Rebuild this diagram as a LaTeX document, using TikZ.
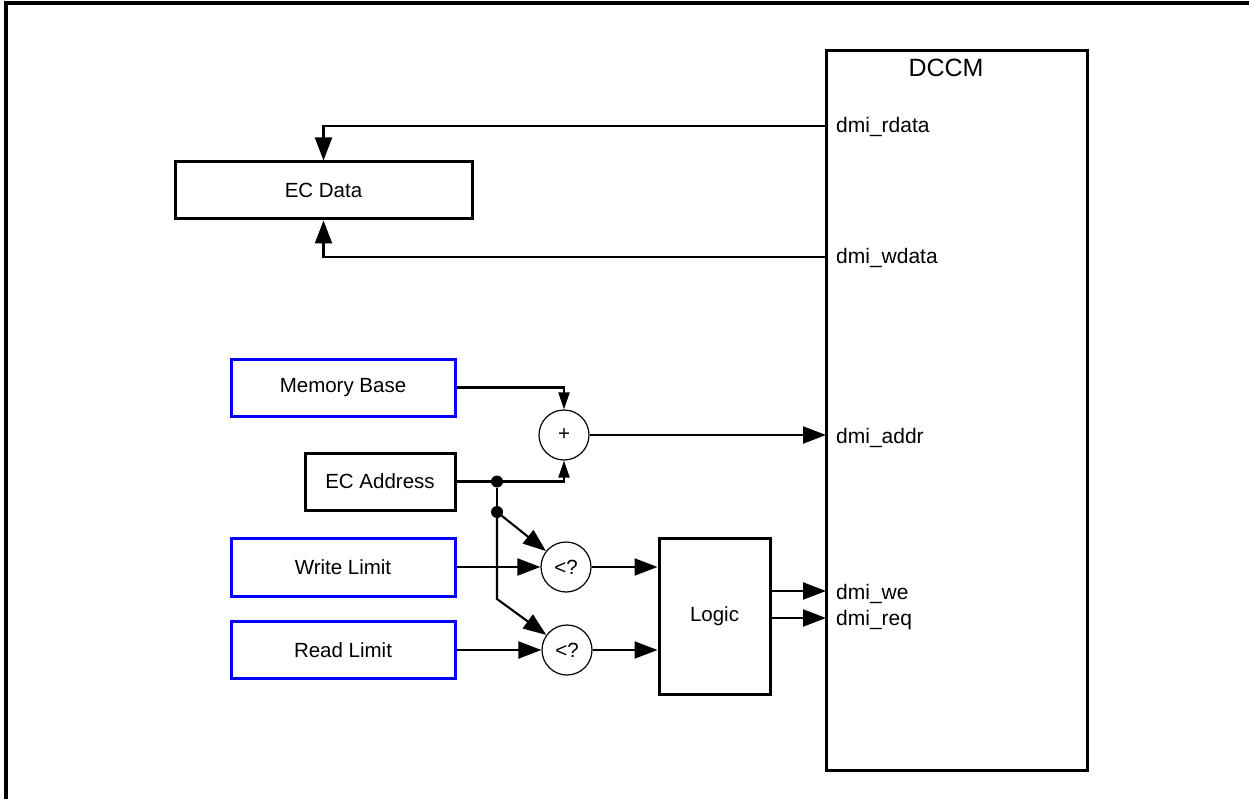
\documentclass[tikz,border=0pt]{standalone}
\usepackage{fontspec}
\setmainfont{Liberation Sans}
\usetikzlibrary{arrows.meta}
\tikzset{
  box/.style={draw, line width=3pt, inner sep=0pt, font=\fontsize{20.5}{24}\selectfont},
  bluebox/.style={box, draw=blue},
  cmpnode/.style={draw, circle, line width=1.2pt, minimum size=50pt, inner sep=0pt, font=\fontsize{20.5}{24}\selectfont},
  conn/.style={line width=2.1pt},
  bigtip/.style={-{Triangle[length=23pt,width=17pt]}},
  smalltip/.style={-{Triangle[length=17pt,width=11pt]}},
  jdot/.style={circle, fill=black, minimum size=12pt, inner sep=0pt},
  port/.style={anchor=west, inner sep=0pt, text height=14pt, text depth=0pt, font=\fontsize{21}{24}\selectfont},
}
\begin{document}
\begin{tikzpicture}[x=1pt,y=-1pt]
\useasboundingbox (0,0) rectangle (1249,799);
% outer frame
\draw[line width=4pt] (6,805) -- (6,3) -- (1255,3);

% DCCM
\node[box, minimum width=261pt, minimum height=719pt] (dccm) at (956.5,410.5) {};
\node[inner sep=0pt, font=\fontsize{25}{29}\selectfont] (dccmlabel) at (946,68) {DCCM};
\coordinate (rdata) at (826,126);
\coordinate (wdata) at (826,257);
\coordinate (addr) at (826,435);
\coordinate (we) at (826,591);
\coordinate (req) at (826,618);
\node[port] (lrdata) at (836,126) {dmi\_rdata};
\node[port] (lwdata) at (836,257) {dmi\_wdata};
\node[port] (laddr) at (836,436) {dmi\_addr};
\node[port] (lwe) at (836,592) {dmi\_we};
\node[port] (lreq) at (836,618) {dmi\_req};

% left blocks
\node[box, minimum width=297pt, minimum height=57pt] (ecdata) at (323.5,190.5) {EC Data};
\node[bluebox, minimum width=224pt, minimum height=57pt] (membase) at (343,387.5) {Memory Base};
\node[box, minimum width=150pt, minimum height=57pt] (ecaddr) at (380,481.5) {EC Address};
\node[bluebox, minimum width=224pt, minimum height=58pt] (wlimit) at (343,567) {Write Limit};
\node[bluebox, minimum width=224pt, minimum height=57pt] (rlimit) at (343,650) {Read Limit};

% operators
\node[cmpnode] (plus) at (564,435) {+};
\node[cmpnode] (cmp1) at (566,567) {<?};
\node[cmpnode] (cmp2) at (567,650) {<?};

% logic
\node[box, minimum width=111pt, minimum height=156pt] (logic) at (714.5,616) {Logic};

% junctions
\node[jdot] (j1) at (497,481.5) {};
\node[jdot] (j2) at (497,512) {};
\coordinate (bend) at (497,599);

% connectors
\draw[conn, bigtip] (rdata) -| (ecdata.north);
\draw[conn, bigtip] (wdata) -| (ecdata.south);
\draw[conn, smalltip] (membase.east) -| (plus.north);
\draw[conn, smalltip] (ecaddr.east) -| (plus.south);
\draw[conn, bigtip] (plus.east) -- (addr);
\draw[conn] (j1) -- (j2);
\draw[conn, bigtip] (j2) -- (cmp1);
\draw[conn, bigtip] (j2.center) -- (bend) -- (cmp2);
\draw[conn, bigtip] (wlimit.east) -- (cmp1.west);
\draw[conn, bigtip] (rlimit.east) -- (cmp2.west);
\draw[conn, bigtip] (cmp1.east) -- (cmp1.east -| logic.west);
\draw[conn, bigtip] (cmp2.east) -- (cmp2.east -| logic.west);
\draw[conn, bigtip] (logic.east |- we) -- (we);
\draw[conn, bigtip] (logic.east |- req) -- (req);
\end{tikzpicture}
\end{document}
